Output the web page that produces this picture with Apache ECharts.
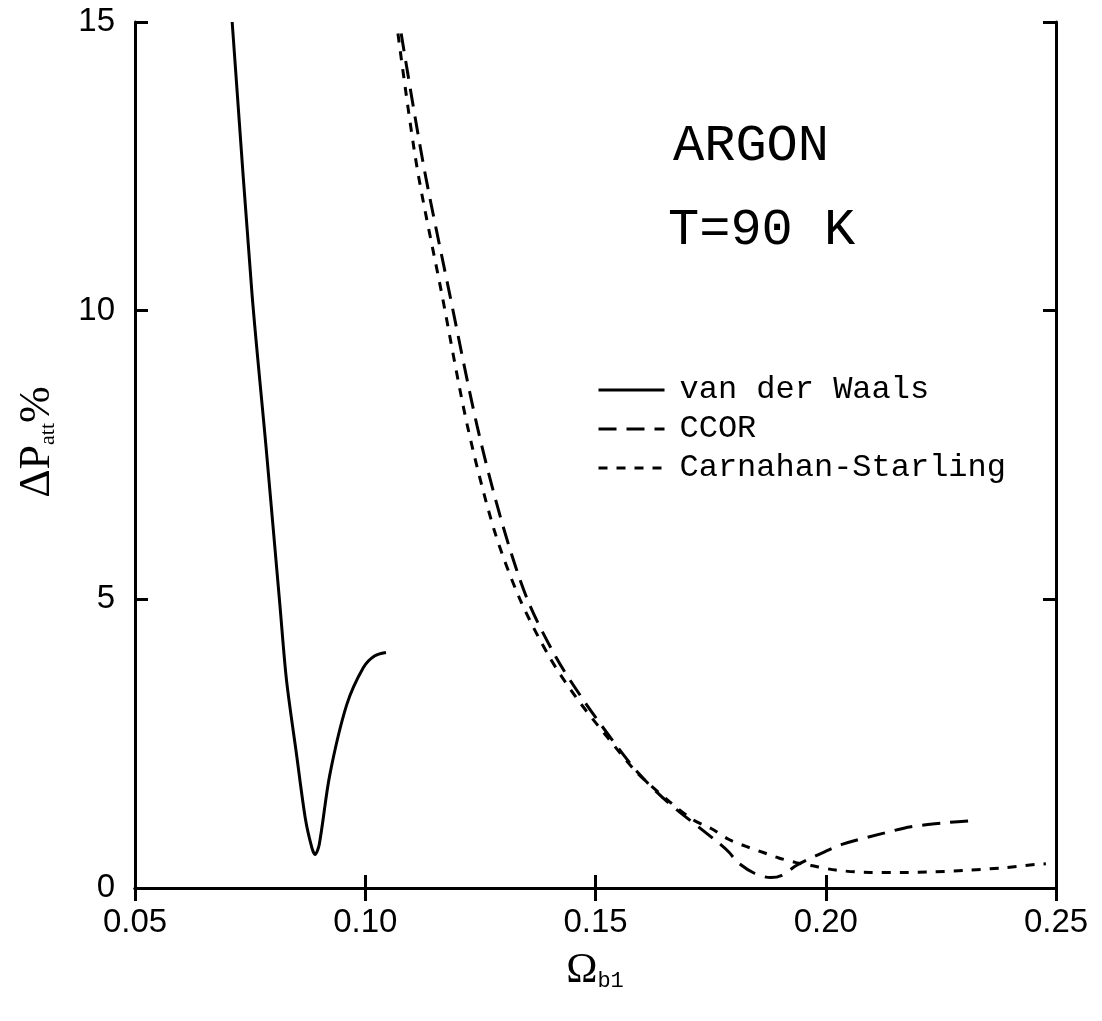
<!DOCTYPE html>
<html>
<head>
<meta charset="utf-8">
<script src="https://cdn.jsdelivr.net/npm/echarts@6/dist/echarts.min.js"></script>
<style>
html,body{margin:0;padding:0;background:#fff;}
#chart{width:1102px;height:1021px;}
</style>
</head>
<body>
<div id="chart"></div>
<script>
// axis ticks
var xTicks = [0.05, 0.10, 0.15, 0.20, 0.25];
var yTicks = [0, 5, 10, 15];

// van der Waals (solid)
var vdwX = [0.0711, 0.0754, 0.0785, 0.0815, 0.0829, 0.0851, 0.0870, 0.0884, 0.0891, 0.0900, 0.0923, 0.0960, 0.0996, 0.1020, 0.1045];
var vdwY = [15.0, 10.3, 7.6, 4.87, 3.6, 2.3, 1.2, 0.7, 0.58, 0.75, 1.96, 3.18, 3.82, 4.02, 4.08];

// CCOR (long dash)
var ccorX = [0.1078, 0.1127, 0.1183, 0.1243, 0.1298, 0.1352, 0.1414, 0.1470, 0.1533, 0.1592, 0.1655, 0.1766, 0.179, 0.1808, 0.1844, 0.188, 0.1905, 0.1936, 0.1979, 0.2037, 0.2126, 0.2185, 0.2259, 0.2324];
var ccorY = [14.8, 12.5, 10.3, 8.0, 6.3, 5.0, 4.0, 3.3, 2.6, 2.0, 1.5, 0.79, 0.62, 0.45, 0.26, 0.18, 0.22, 0.39, 0.56, 0.76, 0.95, 1.06, 1.13, 1.17];

// Carnahan-Starling (short dash)
var csX = [0.1071, 0.1112, 0.1166, 0.1222, 0.1280, 0.1336, 0.1400, 0.1458, 0.1527, 0.1590, 0.1660, 0.1712, 0.1751, 0.179, 0.1827, 0.1866, 0.1898, 0.1936, 0.1968, 0.2022, 0.2096, 0.2166, 0.2235, 0.2313, 0.2387, 0.2459, 0.2478];
var csY = [14.8, 12.5, 10.3, 8.0, 6.2, 5.0, 4.0, 3.3, 2.6, 2.0, 1.5, 1.18, 1.03, 0.84, 0.72, 0.61, 0.52, 0.44, 0.39, 0.31, 0.27, 0.27, 0.28, 0.31, 0.35, 0.41, 0.42];

function pairs(xs, ys){
	var out = [];
	for(var i=0;i<xs.length;i++){
		out.push([xs[i], ys[i]]);
	}
	return out;
}

var myChart = echarts.init(document.getElementById('chart'));

var axisLine = {show: true, lineStyle: {color: '#000', width: 3}};
var tickIn = {show: true, inside: true, length: 13, lineStyle: {color: '#000', width: 3}};
var numFont = {color: '#000', fontSize: 33, fontFamily: 'Liberation Sans, Arial, sans-serif'};
var monoFont = 'Liberation Mono, Courier New, monospace';
var serifFont = 'Liberation Serif, Times New Roman, serif';

var option = {
	animation: false,
	backgroundColor: '#fff',
	grid: {left: 135, right: 46, top: 22, bottom: 133},
	legend: {
		orient: 'vertical',
		left: 592,
		top: 369,
		itemWidth: 66,
		itemHeight: 14,
		itemGap: 7,
		itemStyle: {opacity: 0},
		lineStyle: {width: 3},
		textStyle: {color: '#000', fontSize: 32, lineHeight: 32, fontFamily: monoFont, padding: [0, 0, 0, 10]},
		data: ['van der Waals', 'CCOR', 'Carnahan-Starling']
	},
	xAxis: [{
		type: 'value', min: 0.05, max: 0.25, interval: 0.05, position: 'bottom',
		axisLine: axisLine, axisTick: tickIn, splitLine: {show: false},
		axisLabel: Object.assign({margin: 18, formatter: function(v){ return v.toFixed(2); }}, numFont)
	}, {
		type: 'value', min: 0.05, max: 0.25, interval: 0.05, position: 'top',
		axisLine: axisLine, axisTick: tickIn, splitLine: {show: false}, axisLabel: {show: false}
	}],
	yAxis: [{
		type: 'value', min: 0, max: 15, interval: 5, position: 'left',
		axisLine: axisLine, axisTick: tickIn, splitLine: {show: false},
		axisLabel: Object.assign({margin: 20}, numFont)
	}, {
		type: 'value', min: 0, max: 15, interval: 5, position: 'right',
		axisLine: axisLine, axisTick: tickIn, splitLine: {show: false}, axisLabel: {show: false}
	}],
	graphic: [
		{type: 'text', left: 673, top: 120, style: {text: 'ARGON', fill: '#000', font: '52px ' + monoFont}},
		{type: 'text', left: 668, top: 204, style: {text: 'T=90 K', fill: '#000', font: '52px ' + monoFont}},
		{type: 'text', x: 36, y: 442, rotation: Math.PI / 2,
			style: {
				text: '{a|ΔP}{s|att}{a|%}', fill: '#000', align: 'center', verticalAlign: 'middle',
				rich: {
					a: {fontSize: 44, fontFamily: serifFont, fill: '#000', verticalAlign: 'bottom', lineHeight: 46},
					s: {fontSize: 22, fontFamily: serifFont, fill: '#000', verticalAlign: 'bottom', lineHeight: 36}
				}
			}},
		{type: 'text', x: 595, y: 970,
			style: {
				text: '{a|Ω}{s|b1}', fill: '#000', align: 'center', verticalAlign: 'middle',
				rich: {
					a: {fontSize: 42, fontFamily: serifFont, fill: '#000', verticalAlign: 'bottom', lineHeight: 44},
					s: {fontSize: 22, fontFamily: monoFont, fill: '#000', verticalAlign: 'bottom', lineHeight: 34}
				}
			}}
	],
	series: [{
		name: 'van der Waals', type: 'line', xAxisIndex: 0, yAxisIndex: 0,
		showSymbol: false, symbol: 'none', smooth: 0.3,
		lineStyle: {color: '#000', width: 3, type: 'solid'},
		itemStyle: {color: '#000'},
		data: pairs(vdwX, vdwY)
	}, {
		name: 'CCOR', type: 'line', xAxisIndex: 0, yAxisIndex: 0,
		showSymbol: false, symbol: 'none', smooth: 0.3,
		lineStyle: {color: '#000', width: 3, type: [18, 10]},
		itemStyle: {color: '#000'},
		data: pairs(ccorX, ccorY)
	}, {
		name: 'Carnahan-Starling', type: 'line', xAxisIndex: 0, yAxisIndex: 0,
		showSymbol: false, symbol: 'none', smooth: 0.3,
		lineStyle: {color: '#000', width: 3, type: [9, 9]},
		itemStyle: {color: '#000'},
		data: pairs(csX, csY)
	}]
};

myChart.setOption(option);
</script>
</body>
</html>
